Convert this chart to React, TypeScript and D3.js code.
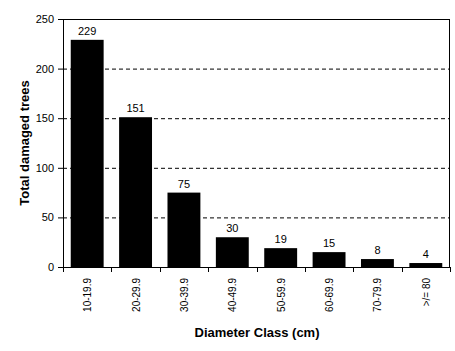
import React, { useRef, useEffect } from 'react'
import * as d3 from 'd3'

const classes = ['10-19.9', '20-29.9', '30-39.9', '40-49.9', '50-59.9', '60-69.9', '70-79.9', '>/= 80']
const damaged = [229, 151, 75, 30, 19, 15, 8, 4]
const yTicks = [0, 50, 100, 150, 200, 250]

export default function App() {
  const ref = useRef<SVGSVGElement>(null)

  useEffect(() => {
    const width = 455
    const height = 351
    const margin = { top: 19, right: 5, bottom: 84, left: 63 }
    const font = 'Arial, "Liberation Sans", sans-serif'

    const svg = d3.select(ref.current)
    svg.selectAll('*').remove()

    const x = d3.scaleBand()
      .domain(classes)
      .range([margin.left, width - margin.right])
      .paddingInner(0.32)
      .paddingOuter(0.16)

    const y = d3.scaleLinear()
      .domain([0, 250])
      .range([height - margin.bottom, margin.top])

    const step = x.step()
    const x0 = margin.left
    const x1 = width - margin.right

    // dashed gridlines
    svg.append('g')
      .selectAll('line')
      .data(yTicks.filter(t => t > 0 && t < 250))
      .enter()
      .append('line')
      .attr('x1', x0)
      .attr('x2', x1)
      .attr('y1', d => y(d) + 0.5)
      .attr('y2', d => y(d) + 0.5)
      .attr('stroke', '#000')
      .attr('stroke-width', 1)
      .attr('stroke-dasharray', '4,3')

    // bars
    svg.append('g')
      .selectAll('rect')
      .data(damaged)
      .enter()
      .append('rect')
      .attr('x', (d, i) => x(classes[i])!)
      .attr('y', d => y(d))
      .attr('width', x.bandwidth())
      .attr('height', d => y(0) - y(d))
      .attr('fill', '#000')

    // value labels
    svg.append('g')
      .selectAll('text')
      .data(damaged)
      .enter()
      .append('text')
      .attr('x', (d, i) => x(classes[i])! + x.bandwidth() / 2)
      .attr('y', d => y(d) - 5)
      .attr('text-anchor', 'middle')
      .attr('font-family', font)
      .attr('font-size', '11px')
      .text(d => d)

    // plot frame
    svg.append('rect')
      .attr('x', x0 + 0.5)
      .attr('y', margin.top + 0.5)
      .attr('width', x1 - x0 - 1)
      .attr('height', y(0) - margin.top)
      .attr('fill', 'none')
      .attr('stroke', '#000')
      .attr('stroke-width', 1)

    // y ticks
    const yg = svg.append('g')
    yg.selectAll('line')
      .data(yTicks)
      .enter()
      .append('line')
      .attr('x1', x0 - 5)
      .attr('x2', x0)
      .attr('y1', d => y(d) + 0.5)
      .attr('y2', d => y(d) + 0.5)
      .attr('stroke', '#000')
    yg.selectAll('text')
      .data(yTicks)
      .enter()
      .append('text')
      .attr('x', x0 - 9)
      .attr('y', d => y(d) + 4)
      .attr('text-anchor', 'end')
      .attr('font-family', font)
      .attr('font-size', '11px')
      .text(d => d)

    // x ticks at category boundaries
    svg.append('g')
      .selectAll('line')
      .data(d3.range(classes.length + 1))
      .enter()
      .append('line')
      .attr('x1', i => Math.round(x0 + i * step) + 0.5)
      .attr('x2', i => Math.round(x0 + i * step) + 0.5)
      .attr('y1', y(0))
      .attr('y2', y(0) + 5)
      .attr('stroke', '#000')

    // x tick labels, rotated
    svg.append('g')
      .selectAll('text')
      .data(classes)
      .enter()
      .append('text')
      .attr('transform', d => `translate(${x(d)! + x.bandwidth() / 2 + 4},${y(0) + 11}) rotate(-90)`)
      .attr('text-anchor', 'end')
      .attr('font-family', font)
      .attr('font-size', '10px')
      .text(d => d)

    // axis titles
    svg.append('text')
      .attr('x', 257)
      .attr('y', 337)
      .attr('text-anchor', 'middle')
      .attr('font-family', font)
      .attr('font-size', '13px')
      .attr('font-weight', 'bold')
      .text('Diameter Class (cm)')

    svg.append('text')
      .attr('transform', `translate(29,${(margin.top + y(0)) / 2}) rotate(-90)`)
      .attr('text-anchor', 'middle')
      .attr('font-family', font)
      .attr('font-size', '13px')
      .attr('font-weight', 'bold')
      .text('Total damaged trees')
  }, [])

  return (
    <svg ref={ref} width={455} height={351}
      style={{ position: 'absolute', left: 0, top: 0, background: '#fff' }} />
  )
}
